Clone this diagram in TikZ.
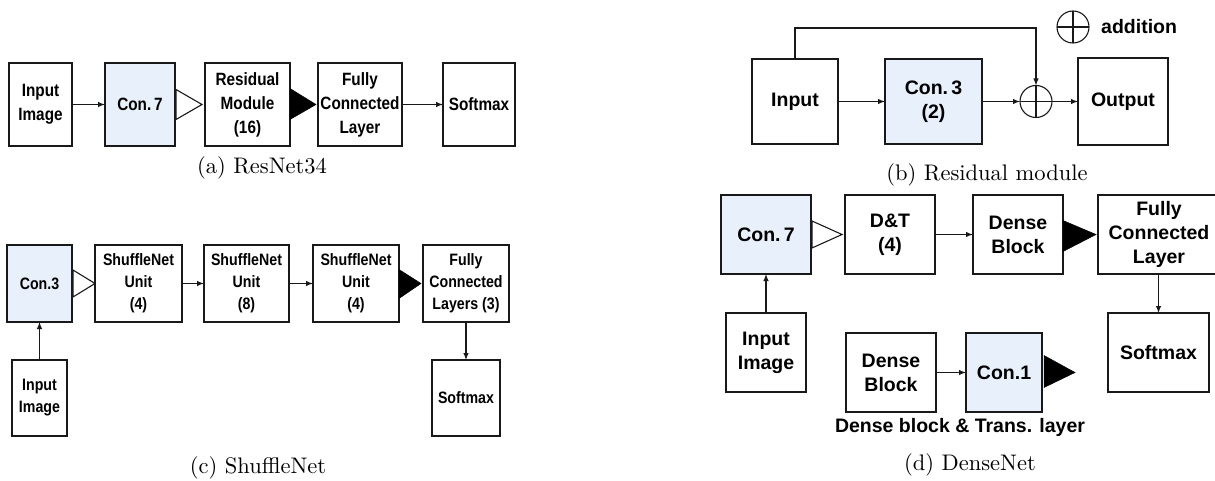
\documentclass[tikz,border=0pt]{standalone}
\usepackage{fontspec}
\newfontfamily\narrowsans[FakeStretch=0.86]{Liberation Sans}
\newfontfamily\plainsans{Liberation Sans}
\newfontfamily\capfont{lmroman10-regular}[Extension=.otf]
\usetikzlibrary{arrows.meta,calc}
\definecolor{boxblue}{RGB}{232,240,252}
\definecolor{edgecol}{RGB}{25,25,25}
\begin{document}
\begin{tikzpicture}[x=1pt,y=-1pt,
  blk/.style={draw=edgecol, line width=1.4pt, inner sep=0pt, outer sep=0pt, align=center, fill=white},
  sa/.style={blk, font=\narrowsans\bfseries\fontsize{17.8}{24}\selectfont},
  sc/.style={blk, font=\narrowsans\bfseries\fontsize{16.5}{22}\selectfont},
  sd/.style={blk, font=\plainsans\bfseries\fontsize{19.5}{24}\selectfont},
  conv/.style={fill=boxblue},
  arr/.style={-{Latex[length=7pt,width=5.5pt]}, line width=1.1pt, draw=edgecol},
  opentri/.style={draw=edgecol, line width=1.1pt, fill=white, line join=miter},
  solidtri/.style={draw=black, fill=black, line width=0.5pt, line join=miter},
  circ/.style={draw=edgecol, circle, line width=1.1pt, minimum size=32pt, inner sep=0pt, outer sep=0pt},
  capt/.style={font=\capfont\fontsize{22.5}{27}\selectfont, inner sep=0pt},
]
\useasboundingbox (0,0) rectangle (1215,481);

% ---------------- (a) ResNet34 ----------------
\node[sa, minimum width=63, minimum height=83] (inA) at (40.5,104.5) {Input\\Image};
\node[sa, conv, minimum width=70, minimum height=83] (conA) at (140,104.5) {Con.\,7};
\node[sa, minimum width=85, minimum height=83] (resA) at (247.5,104.5) {Residual\\Module\\(16)};
\node[sa, minimum width=84, minimum height=83] (fcA) at (360,104.5) {Fully\\Connected\\Layer};
\node[sa, minimum width=72, minimum height=83] (smA) at (479,104.5) {Softmax};
\draw[arr] (inA) -- (conA);
\draw[opentri] ($(conA.east)+(1,-15)$) -- ($(resA.west)+(-3,0)$) -- ($(conA.east)+(1,15)$) -- cycle;
\draw[solidtri] ($(resA.east)+(0,-16)$) -- ($(fcA.west)+(-2,0)$) -- ($(resA.east)+(0,15)$) -- cycle;
\draw[arr] (fcA) -- (smA);
\node[capt] (capA) at (262,168) {(a) ResNet34};

% ---------------- (b) Residual module ----------------
\node[sd, minimum width=86, minimum height=85] (inB) at (795,101.5) {Input};
\node[sd, conv, minimum width=97, minimum height=85] (conB) at (933.5,101.5) {Con.\,3\\(2)};
\node[circ] (plusB) at (1036,101.5) {};
\draw[line width=1.1pt, draw=edgecol] (plusB.north) -- (plusB.south) (plusB.west) -- (plusB.east);
\node[sd, minimum width=90, minimum height=87] (outB) at (1123,101.5) {Output};
\draw[arr] (inB) -- (conB);
\draw[arr] (conB) -- (plusB);
\draw[arr] (plusB) -- (outB);
\draw[arr] (inB.north) -- ++(0,-31) -| (plusB.north);
\node[circ] (legB) at (1073,27) {};
\draw[line width=1.1pt, draw=edgecol] (legB.north) -- (legB.south) (legB.west) -- (legB.east);
\node[font=\plainsans\bfseries\fontsize{19.5}{24}\selectfont, anchor=west, inner sep=0pt] (addB) at ($(legB.east)+(12,0)$) {addition};
\node[capt] (capB) at (987,175) {(b) Residual module};

% ---------------- (c) ShuffleNet ----------------
\node[sc, conv, minimum width=65, minimum height=77] (conC) at (39.5,283.5) {Con.3};
\node[sc, minimum width=87, minimum height=77] (su1) at (138.5,283.5) {ShuffleNet\\Unit\\(4)};
\node[sc, minimum width=85, minimum height=77] (su2) at (246.5,283.5) {ShuffleNet\\Unit\\(8)};
\node[sc, minimum width=86, minimum height=77] (su3) at (356,283.5) {ShuffleNet\\Unit\\(4)};
\node[sc, minimum width=86, minimum height=77] (fcC) at (466,283.5) {Fully\\Connected\\Layers (3)};
\node[sc, minimum width=68, minimum height=76] (smC) at (466,398) {Softmax};
\node[sc, minimum width=55, minimum height=76] (inC) at (39.5,398) {Input\\Image};
\draw[opentri] ($(conC.east)+(1,-13.5)$) -- (su1.west) -- ($(conC.east)+(1,13.5)$) -- cycle;
\draw[arr] (su1) -- (su2);
\draw[arr] (su2) -- (su3);
\draw[solidtri] ($(su3.east)+(0,-14)$) -- ($(fcC.west)+(-2,0)$) -- ($(su3.east)+(0,15)$) -- cycle;
\draw[arr] (inC) -- (conC);
\draw[arr] (fcC) -- (smC);
\node[capt] (capC) at (258,468) {(c) ShuffleNet};

% ---------------- (d) DenseNet ----------------
\node[sd, conv, minimum width=90, minimum height=79] (conD) at (766,234.5) {Con.\,7};
\node[sd, minimum width=90, minimum height=79] (dtD) at (890,234.5) {D\&T\\(4)};
\node[sd, minimum width=90, minimum height=79] (dbD) at (1018,234.5) {Dense\\Block};
\node[sd, minimum width=122, minimum height=79] (fcD) at (1159,234.5) {Fully\\Connected\\Layer};
\node[sd, minimum width=101, minimum height=79] (smD) at (1158.5,352.5) {Softmax};
\node[sd, minimum width=80, minimum height=79] (inD) at (766,352.5) {Input\\Image};
\node[sd, minimum width=90, minimum height=79] (db2) at (891,372.5) {Dense\\Block};
\node[sd, conv, minimum width=76, minimum height=79] (con1) at (1004,372.5) {Con.1};
\draw[opentri] ($(conD.east)+(1,-13.5)$) -- ($(dtD.west)+(-3,0)$) -- ($(conD.east)+(1,13.5)$) -- cycle;
\draw[arr] (dtD) -- (dbD);
\draw[solidtri] ($(dbD.east)+(0,-14)$) -- ($(fcD.west)+(-2,0)$) -- ($(dbD.east)+(0,17)$) -- cycle;
\draw[arr] (inD) -- (conD);
\draw[arr] (fcD.south -| smD.north) -- (smD.north);
\draw[arr] (db2) -- (con1);
\draw[solidtri] ($(con1.east)+(2,-17)$) -- ($(con1.east)+(33,0)$) -- ($(con1.east)+(2,15)$) -- cycle;
\node[font=\plainsans\bfseries\fontsize{19.5}{24}\selectfont, inner sep=0pt] (dbtl) at (960,427) {Dense block \& Trans. layer};
\node[capt] (capD) at (970,465) {(d) DenseNet};
\end{tikzpicture}
\end{document}
